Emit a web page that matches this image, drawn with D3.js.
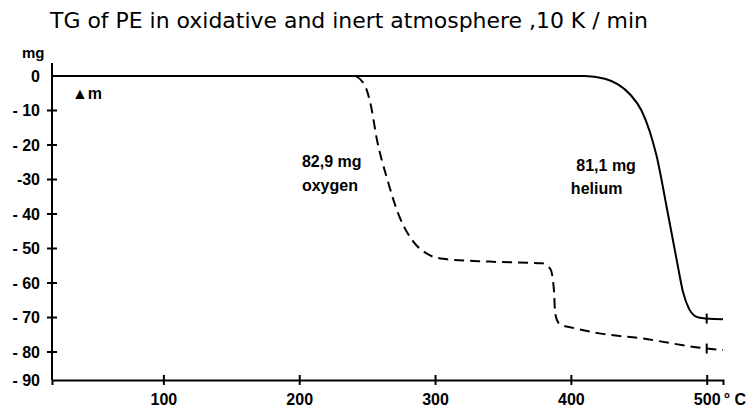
<!DOCTYPE html>
<html>
<head>
<meta charset="utf-8">
<script src="https://cdn.jsdelivr.net/npm/d3@7"></script>
<style>
  body { margin: 0; background: #fff; }
  svg { display: block; }
  text { fill: #000; font-family: "DejaVu Sans", sans-serif; }
  .lbl { font-family: "Liberation Sans", sans-serif; font-weight: bold; }
</style>
</head>
<body>
<svg width="756" height="411"></svg>
<script>
// temperature (°C) and mass change (mg)
const heliumT = [18, 300, 410, 425, 435, 444, 452, 458, 463, 471, 478, 482.5, 487, 491, 495, 500, 512];
const heliumM = [0, 0, 0, -0.8, -2.5, -5.5, -10, -16, -23, -39, -53.5, -62.5, -67.5, -69.5, -70.1, -70.3, -70.5];

const oxygenT = [18, 200, 240, 248, 253, 257, 264.5, 274, 284, 294, 306, 340, 379, 385, 387.5, 388.5, 392, 401.5, 421, 451, 500, 512];
const oxygenM = [0, 0, 0, -2.5, -9, -18, -29.5, -41, -48, -51.5, -53, -53.8, -54.3, -56, -62, -69, -72, -73, -74.6, -76, -79, -79.4];

const xTicks = [100, 200, 300, 400, 500];
const yTicks = [-10, -20, -30, -40, -50, -60, -70, -80];
const yLabels = ["0", "- 10", "- 20", "-30", "- 40", "- 50", "- 60", "- 70", "- 80"];
const yLabelValues = [0, -10, -20, -30, -40, -50, -60, -70, -80];

const svg = d3.select("svg");

const x = d3.scaleLinear().domain([18, 512]).range([52, 723]);
const y = d3.scaleLinear().domain([0, -80]).range([76, 352]);
const yBase = -88.1;
const yTop = 3.8;

// title
svg.append("text")
  .attr("x", 50)
  .attr("y", 28)
  .attr("textLength", 598)
  .attr("lengthAdjust", "spacingAndGlyphs")
  .style("font-size", "21px")
  .text("TG of PE in oxidative and  inert  atmosphere ,10 K / min");

// x axis with crossing ticks
const xAxis = svg.append("g")
  .attr("transform", `translate(0,${y(yBase)})`)
  .call(d3.axisBottom(x).tickValues(xTicks).tickSizeOuter(0).tickSize(5).tickFormat(d3.format("d")));
xAxis.select(".domain").attr("stroke-width", 2);
xAxis.selectAll(".tick line").attr("y1", -5).attr("y2", 5).attr("stroke-width", 2);
xAxis.selectAll(".tick text")
  .attr("y", 14)
  .attr("class", "lbl")
  .style("font-size", "16px");

svg.append("text")
  .attr("class", "lbl")
  .attr("x", x(500) + 17)
  .attr("y", y(yBase) + 25)
  .style("font-size", "16px")
  .text("° C");

// y axis
const yAxis = svg.append("g").attr("transform", `translate(${x(18)},0)`);
yAxis.append("line")
  .attr("y1", y(yTop)).attr("y2", y(yBase))
  .attr("stroke", "#000").attr("stroke-width", 2);
yAxis.selectAll(".ytick")
  .data(yTicks)
  .join("line")
  .attr("x1", -5).attr("x2", 5)
  .attr("y1", d => y(d)).attr("y2", d => y(d))
  .attr("stroke", "#000").attr("stroke-width", 2);
yAxis.selectAll(".ylabel")
  .data(yLabelValues)
  .join("text")
  .attr("class", "lbl")
  .attr("x", -12)
  .attr("y", d => y(d))
  .attr("dy", "0.36em")
  .attr("text-anchor", "end")
  .style("font-size", "16px")
  .text((d, i) => yLabels[i]);
yAxis.append("text")
  .attr("class", "lbl")
  .attr("x", -12)
  .attr("y", y(yBase))
  .attr("dy", "0.36em")
  .attr("text-anchor", "end")
  .style("font-size", "16px")
  .text("- 90");
yAxis.append("text")
  .attr("class", "lbl")
  .attr("x", -30)
  .attr("y", y(yTop) - 5)
  .style("font-size", "15px")
  .text("mg");
yAxis.append("text")
  .attr("class", "lbl")
  .attr("x", 20)
  .attr("y", y(-6.8))
  .style("font-size", "16px")
  .text("\u25B2m");

// curves
const line = d3.line()
  .x(d => x(d[0]))
  .y(d => y(d[1]))
  .curve(d3.curveMonotoneX);

const oxygen = oxygenT.map((t, i) => [t, oxygenM[i]]);
const helium = heliumT.map((t, i) => [t, heliumM[i]]);

svg.append("path")
  .datum(oxygen)
  .attr("d", line)
  .attr("fill", "none")
  .attr("stroke", "#000")
  .attr("stroke-width", 2)
  .attr("stroke-dasharray", "10,6");

svg.append("path")
  .datum(helium)
  .attr("d", line)
  .attr("fill", "none")
  .attr("stroke", "#000")
  .attr("stroke-width", 2);

// end marks at 500 °C on each curve
const marks = [[500, -70.3], [500, -79]];
svg.selectAll(".mark")
  .data(marks)
  .join("line")
  .attr("x1", d => x(d[0])).attr("x2", d => x(d[0]))
  .attr("y1", d => y(d[1]) - 5).attr("y2", d => y(d[1]) + 5)
  .attr("stroke", "#000").attr("stroke-width", 2);

// sample labels
const notes = [
  { t: 202, m: -26.5, text: "82,9 mg" },
  { t: 202, m: -33.4, text: "oxygen" },
  { t: 404, m: -27.6, text: "81,1 mg" },
  { t: 400, m: -34.2, text: "helium" }
];
svg.selectAll(".note")
  .data(notes)
  .join("text")
  .attr("class", "lbl")
  .attr("x", d => x(d.t))
  .attr("y", d => y(d.m))
  .style("font-size", "16px")
  .text(d => d.text);
</script>
</body>
</html>
